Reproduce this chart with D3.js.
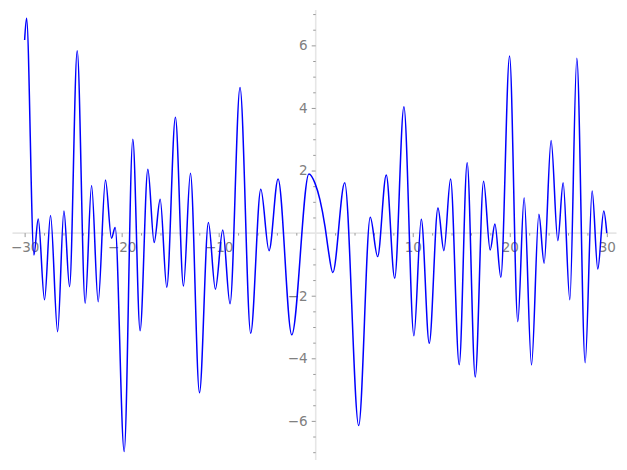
<!DOCTYPE html>
<html>
<head>
<meta charset="utf-8">
<script src="https://cdn.jsdelivr.net/npm/d3@7"></script>
<style>
  html, body { margin: 0; padding: 0; background: #fff; }
  svg { display: block; }
</style>
</head>
<body>
<svg id="chart" width="627" height="470"></svg>
<script>
// ---- data (local extrema and a few shoulder points) ----
const xValues = [-30.0, -29.8, -29.04, -28.6, -27.95, -27.33, -26.6, -25.95, -25.37, -24.58,
  -23.76, -23.1, -22.42, -21.67, -21.05, -20.67, -19.74, -18.85, -18.1, -17.3,
  -16.65, -16.03, -15.35, -14.46, -13.63, -12.91, -11.98, -11.06, -10.34, -9.58,
  -8.83, -7.8, -6.7, -5.66, -4.81, -3.88, -2.47, -0.7, -0.07, 0.44,
  0.96, 1.3, 1.76, 2.99, 4.43, 5.62, 6.38, 7.27, 8.14, 9.09,
  10.12, 10.88, 11.7, 12.6, 13.21, 13.9, 14.79, 15.61, 16.44, 17.3,
  17.98, 18.47, 19.08, 19.98, 20.83, 21.48, 22.24, 23.0, 23.54, 24.26,
  24.95, 25.5, 26.19, 26.91, 27.77, 28.49, 29.07, 29.69, 30.0];
const yValues = [6.17, 6.87, -0.70, 0.45, -2.13, 0.56, -3.15, 0.71, -1.71, 5.83,
  -2.24, 1.52, -2.19, 1.70, -0.16, 0.18, -6.98, 3.0, -3.12, 2.04,
  -0.30, 1.08, -1.73, 3.70, -1.69, 1.91, -5.10, 0.34, -1.79, 0.10,
  -2.26, 4.65, -3.20, 1.40, -0.56, 1.73, -3.25, 1.89, 1.59, 1.06,
  0.21, -0.54, -1.26, 1.61, -6.15, 0.51, -0.75, 1.86, -1.44, 4.04,
  -3.28, 0.44, -3.52, 0.80, -0.56, 1.73, -4.21, 2.25, -4.6, 1.66,
  -0.54, 0.29, -1.41, 5.66, -2.83, 1.13, -4.21, 0.60, -0.96, 2.96,
  -0.24, 1.61, -2.13, 5.59, -4.14, 1.35, -1.15, 0.71, 0.0];
const xTickLabels = [-30, -20, -10, 10, 20, 30];
const yTickLabels = [-6, -4, -2, 2, 4, 6];

// ---- layout ----
const svg = d3.select("#chart");
const x = d3.scaleLinear().domain([-31.25, 31.0]).range([12.5, 616.5]);
const y = d3.scaleLinear().domain([-7.25, 7.13]).range([460, 10]);

const xMinor = d3.range(-30, 31, 2).filter(v => v % 10 !== 0);
const yMinor = d3.range(-7, 7.01, 0.5).filter(v => v % 2 !== 0);

const spineColor = "#e6e6e6";
const tickColor = "#999999";
const textColor = "#808080";
const font = "DejaVu Sans, sans-serif";

// spines (through the origin)
svg.append("line")
  .attr("x1", x(-31.25)).attr("x2", x(31.0))
  .attr("y1", y(0)).attr("y2", y(0))
  .attr("stroke", spineColor).attr("stroke-width", 1.6);
svg.append("line")
  .attr("x1", x(0)).attr("x2", x(0))
  .attr("y1", y(7.13)).attr("y2", y(-7.25))
  .attr("stroke", spineColor).attr("stroke-width", 1.6);

// x axis
const gx = svg.append("g").attr("transform", `translate(0,${y(0)})`);
gx.call(d3.axisBottom(x).tickValues(xTickLabels).tickSize(4).tickPadding(5));
const gxm = svg.append("g").attr("transform", `translate(0,${y(0)})`);
gxm.call(d3.axisBottom(x).tickValues(xMinor).tickSize(2.5).tickFormat(""));

// y axis
const gy = svg.append("g").attr("transform", `translate(${x(0)},0)`);
gy.call(d3.axisLeft(y).tickValues(yTickLabels).tickSize(4).tickPadding(4));
const gym = svg.append("g").attr("transform", `translate(${x(0)},0)`);
gym.call(d3.axisLeft(y).tickValues(yMinor).tickSize(2.5).tickFormat(""));

[gx, gxm, gy, gym].forEach(g => {
  g.select(".domain").remove();
  g.selectAll(".tick line").attr("stroke", tickColor).attr("stroke-width", 1);
  g.selectAll(".tick text")
    .attr("fill", textColor)
    .style("font-family", font)
    .style("font-size", "13.5px");
});

// curve
const pts = xValues.map((v, i) => [v, yValues[i]]);
const line = d3.line()
  .x(d => x(d[0]))
  .y(d => y(d[1]))
  .curve(d3.curveMonotoneX);

svg.append("path")
  .datum(pts)
  .attr("d", line)
  .attr("fill", "none")
  .attr("stroke", "#0000ff")
  .attr("stroke-width", 1.5);
</script>
</body>
</html>
